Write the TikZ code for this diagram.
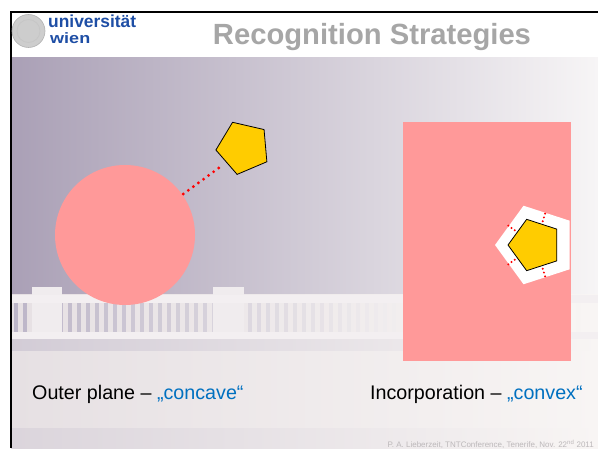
\documentclass[tikz,border=0pt]{standalone}
\usepackage{fontspec}
\setmainfont{Liberation Sans}
\usetikzlibrary{calc}
\definecolor{pinkfill}{RGB}{255,153,153}
\definecolor{pentyellow}{RGB}{255,204,0}
\definecolor{titlegray}{RGB}{166,166,166}
\definecolor{quoteblue}{RGB}{0,112,192}
\definecolor{logoblue}{RGB}{30,78,165}
\definecolor{footgray}{RGB}{188,184,186}
\definecolor{bgL}{RGB}{170,160,182}
\definecolor{bgM}{RGB}{222,217,225}
\definecolor{bgR}{RGB}{247,245,246}
\definecolor{bldL}{RGB}{230,224,227}
\definecolor{bldR}{RGB}{248,245,244}
\definecolor{gapL}{RGB}{186,179,198}
\definecolor{sealgray}{RGB}{205,205,205}
\tikzset{
  pentshape/.style={fill=pentyellow, draw=black, line width=0.8pt, line join=miter},
  reddots/.style={draw=red, line width=3.2pt, line cap=round, dash pattern=on 0pt off 6.27pt},
  smalldots/.style={draw=red, line width=2.2pt, line cap=round, dash pattern=on 0pt off 4pt},
  bodytext/.style={anchor=base west, inner sep=0pt, font=\fontsize{19.7}{23}\selectfont},
  logotext/.style={anchor=base west, inner sep=0pt, text=logoblue}
}
\begin{document}
\begin{tikzpicture}[x=1pt,y=1pt]
\useasboundingbox (0,0) rectangle (598,448);
\begin{scope}
\clip (0,0) rectangle (598,448);
\fill[white] (0,0) rectangle (598,448);
% background photo (approximation)
\shade[left color=bgL, middle color=bgM, right color=bgR] (11,0) rectangle (598,391.3);
\shade[left color=bldL, right color=bldR] (11,0) rectangle (598,153);
\foreach \x in {14,23,...,590}{
  \pgfmathtruncatemacro{\pct}{max(0,100-\x/4.5)}
  \fill[gapL!\pct!bldR] (\x,116) rectangle ++(4,29);
}
\fill[bldL!60!white] (32,108) rectangle (62,161);
\fill[bldL!60!white] (213,108) rectangle (244,161);
\fill[bldL!50!white] (11,145) rectangle (598,153);
\fill[bldL!50!white] (11,108) rectangle (598,116);
\shade[left color=gapL!45!bldL, right color=bldR] (11,98) rectangle (598,108);
\shade[left color=gapL!25!bldL, right color=bldR] (11,0) rectangle (598,20);
% header
\fill[white] (0,391.3) rectangle (598,448);
\draw[black, line width=1.6pt] (10.2,436) -- (598,436);
\draw[black, line width=1.6pt] (11,436.8) -- (11,0);
% logo
\node[circle, fill=sealgray, draw=gray!60, line width=0.6pt, minimum size=33pt, inner sep=0pt] (seal) at (28.5,417) {};
\node[circle, draw=gray!45, line width=0.8pt, minimum size=23pt, inner sep=0pt] (sealin) at (seal.center) {};
\node[logotext, font=\fontsize{17.4}{17}\selectfont\bfseries] (uni) at (48,420) {universität};
\node[logotext, font=\fontsize{15}{15}\selectfont\bfseries, xscale=1.2] (wien) at (50,404) {wien};
% title
\node[anchor=base, inner sep=0pt, text=titlegray, font=\fontsize{29.2}{34}\selectfont\bfseries] (title) at (372,403) {Recognition Strategies};
% left: concave
\node[circle, fill=pinkfill, minimum size=140pt, inner sep=0pt] (cave) at (125,213) {};
\coordinate (p1) at (243.3,300.4);
\draw[pentshape] ($(p1)+(185:27.5)$) -- ($(p1)+(113:27.5)$) -- ($(p1)+(41:27.5)$) -- ($(p1)+(-31:27.5)$) -- ($(p1)+(-103:27.5)$) -- cycle;
\coordinate (d1) at (183.3,254);
\coordinate (d2) at (218.7,280);
\draw[reddots] (d1) -- (d2);
% right: convex
\node[rectangle, fill=pinkfill, minimum width=168.5pt, minimum height=238.5pt, inner sep=0pt, anchor=south west] (plane) at (402.5,87) {};
\coordinate (c3) at (536.3,203);
\fill[white] ($(c3)+(180:41.3)$) -- ($(c3)+(108:41.3)$) -- ($(c3)+(36:41.3)$) -- ($(c3)+(-36:41.3)$) -- ($(c3)+(-108:41.3)$) -- cycle;
\coordinate (c2) at (535,203);
\draw[pentshape] ($(c2)+(180:27)$) -- ($(c2)+(108:27)$) -- ($(c2)+(36:27)$) -- ($(c2)+(-36:27)$) -- ($(c2)+(-108:27)$) -- cycle;
\foreach \a/\n in {72/a,144/b,-144/c,-72/d}{
  \coordinate (in\n) at ($(c2)+(\a:25)$);
  \coordinate (out\n) at ($(c2)+(\a:33)$);
  \draw[smalldots] (in\n) -- (out\n);
}
% labels
\node[bodytext] (lab1) at (32,48.5) {Outer plane – \textcolor{quoteblue}{„concave“}};
\node[bodytext] (lab2) at (370,48.5) {Incorporation – \textcolor{quoteblue}{„convex“}};
\node[anchor=base east, inner sep=0pt, text=footgray, font=\fontsize{8}{9}\selectfont] (foot) at (594,0.6) {P. A. Lieberzeit, TNTConference, Tenerife, Nov. 22\textsuperscript{nd} 2011};
\end{scope}
\end{tikzpicture}
\end{document}
